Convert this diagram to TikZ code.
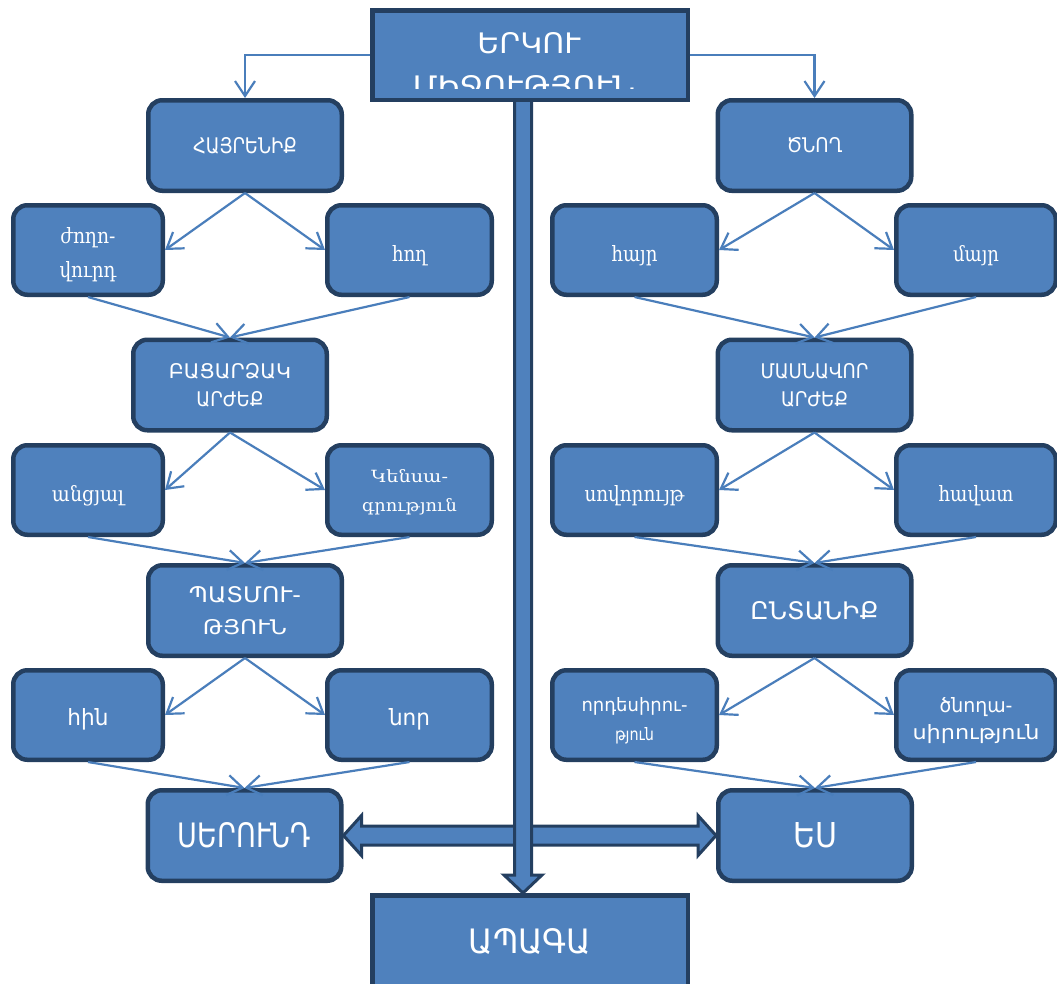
\documentclass[tikz,border=0pt]{standalone}
\usepackage{fontspec}
\usepackage{graphicx}
\usetikzlibrary{arrows.meta,calc}
\newfontfamily\capsf{DejaVu Sans}
\newfontfamily\sansf{DejaVu Sans}
\newfontfamily\serff{DejaVu Serif}
\newcommand\lowfont{\serff\iffontchar\font"0570\relax\else\sansf\fi}
\newcommand\capline[3]{\resizebox{#1pt}{#2pt}{\capsf #3}}
% width, ascender height, forced layout height, text
\newcommand\lowline[4]{\raisebox{0pt}[#3pt][0pt]{\resizebox{#1pt}{#2pt}{\lowfont #4}}}
\newcommand\sansline[4]{\raisebox{0pt}[#3pt][0pt]{\resizebox{#1pt}{#2pt}{\sansf #4}}}
\definecolor{boxfill}{RGB}{79,129,189}
\definecolor{boxline}{RGB}{36,63,96}
\definecolor{connblue}{RGB}{74,126,187}
\tikzset{
  rbox/.style={draw=boxline, line width=4.5pt, fill=boxfill, rounded corners=14pt, text=white, inner sep=0pt, align=center},
  bigbox/.style={rbox, minimum width=193.5pt, minimum height=90.5pt},
  smallL/.style={rbox, minimum width=149.5pt, minimum height=89.5pt},
  smallR/.style={rbox, minimum width=164.5pt, minimum height=89.5pt},
  edgebox/.style={rbox, minimum width=159.5pt, minimum height=89.5pt},
  sqbox/.style={draw=boxline, line width=4.5pt, fill=boxfill, text=white, inner sep=0pt, minimum width=315.5pt, minimum height=89.5pt},
  conn/.style={draw=connblue, line width=2.2pt, -{Straight Barb[length=15pt,width=20pt]}},
  fat/.style={draw=boxline, line width=3pt, fill=boxfill, line join=miter},
  bs/.style={font=\fontsize{10}{#1}\selectfont}
}
\begin{document}
\begin{tikzpicture}[x=1pt,y=-1pt]
\useasboundingbox (0,0) rectangle (1057,983);
\clip (0,0) rectangle (1057,983);
\fill[white] (0,0) rectangle (1057,983);

% top and bottom boxes
\node[sqbox] (two) at (530,55) {};
\begin{scope}
  \clip ([xshift=2pt,yshift=-2pt]two.north west) rectangle ([xshift=-2pt,yshift=14pt]two.south east);
  \node[anchor=north, inner sep=0pt, align=center, text=white, bs=43] (twoT) at (529,32)
    {\capline{103}{21}{ԵՐԿՈՒ}\\\capline{232}{21}{ՄԻՋՈՒԹՅՈՒՆ.}};
\end{scope}
\node[sqbox, minimum height=92.5pt] (future) at (530,941.5) {\capline{122}{25}{ԱՊԱԳԱ}};

% left column
\node[bigbox] (hayreniq) at (245,145.5) {\capline{104}{16}{ՀԱՅՐԵՆԻՔ}};
\node[smallL, bs=34] (zhoghovurd) at (88,250) {\lowline{55}{16}{20}{ժողո-}\\\lowline{57}{16}{10}{վուրդ}};
\node[smallR] (hogh) at (409.5,250) {\lowline{35}{16}{22}{հող}};
\node[bigbox, bs=28] (bacardzak) at (230,385) {\capline{122}{15}{ԲԱՑԱՐՁԱԿ}\\\capline{67}{15}{ԱՐԺԵՔ}};
\node[smallL] (ancyal) at (88,490) {\lowline{72}{16}{22}{անցյալ}};
\node[smallR, bs=29] (kensagr) at (409.5,490) {\lowline{77}{13}{13}{Կենսա-}\\\lowline{95}{13}{10}{գրություն}};
\node[bigbox, bs=32] (patmutyun) at (245,610.5) {\capline{112}{16}{ՊԱՏՄՈՒ-}\\\capline{84}{15}{ԹՅՈՒՆ}};
\node[smallL] (hin) at (88,715) {\sansline{41}{17}{20}{հին}};
\node[smallR] (nor) at (409.5,715) {\sansline{41}{17}{20}{նոր}};
\node[bigbox] (serund) at (244.5,835.5) {\capline{133}{25}{ՍԵՐՈՒՆԴ}};

% right column
\node[bigbox] (tsnogh) at (814.5,145.5) {\capline{56}{15}{ԾՆՈՂ}};
\node[smallR] (hayr) at (634.5,250) {\lowline{46}{16}{22}{հայր}};
\node[edgebox] (mayr) at (976,250) {\lowline{46}{16}{22}{մայր}};
\node[bigbox, bs=28] (masnavor) at (814.5,385) {\capline{108}{15}{ՄԱՍՆԱՎՈՐ}\\\capline{67}{15}{ԱՐԺԵՔ}};
\node[smallR] (sovoruyt) at (634.5,490) {\lowline{100}{16}{22}{սովորույթ}};
\node[edgebox] (havat) at (976,490) {\lowline{75}{16}{22}{հավատ}};
\node[bigbox] (entaniq) at (814.5,610.5) {\capline{128}{18}{ԸՆՏԱՆԻՔ}};
\node[smallR, bs=29] (vordesir) at (634.5,715) {\sansline{106}{14}{21}{որդեսիրու-}\\\sansline{39}{13}{10}{թյուն}};
\node[edgebox, bs=27] (tsnoghasir) at (976,715) {\sansline{73}{15}{21}{ծնողա-}\\\sansline{127}{15}{10}{սիրություն}};
\node[bigbox] (es) at (815,835.5) {\capline{44}{25}{ԵՍ}};

% fat arrows
\coordinate (hl) at (serund.east);
\coordinate (hr) at (es.west);
\draw[fat] (hl) -- ($(hl)+(18,-20)$) -- ($(hl)+(18,-9.5)$) -- ($(hr)+(-18,-9.5)$) -- ($(hr)+(-18,-20)$) -- (hr)
  -- ($(hr)+(-18,20)$) -- ($(hr)+(-18,9.5)$) -- ($(hl)+(18,9.5)$) -- ($(hl)+(18,20)$) -- cycle;
\coordinate (vs) at ([xshift=-7pt]two.south);
\coordinate (ve) at (vs |- future.north);
\draw[fat] ($(vs)+(-8.5,0)$) -- ($(ve)+(-8.5,-18)$) -- ($(ve)+(-19,-18)$) -- (ve) -- ($(ve)+(19,-18)$)
  -- ($(ve)+(8.5,-18)$) -- ($(vs)+(8.5,0)$);

% connectors
\draw[conn] (two.west) -| (hayreniq.north);
\draw[conn] (two.east) -| (tsnogh.north);

\draw[conn] (hayreniq.south) -- (zhoghovurd.east);
\draw[conn] (hayreniq.south) -- (hogh.west);
\draw[conn] (zhoghovurd.south) -- (bacardzak.north);
\draw[conn] (hogh.south) -- (bacardzak.north);
\draw[conn] (bacardzak.south) -- (ancyal.east);
\draw[conn] (bacardzak.south) -- (kensagr.west);
\draw[conn] (ancyal.south) -- (patmutyun.north);
\draw[conn] (kensagr.south) -- (patmutyun.north);
\draw[conn] (patmutyun.south) -- (hin.east);
\draw[conn] (patmutyun.south) -- (nor.west);
\draw[conn] (hin.south) -- (serund.north);
\draw[conn] (nor.south) -- (serund.north);

\draw[conn] (tsnogh.south) -- (hayr.east);
\draw[conn] (tsnogh.south) -- (mayr.west);
\draw[conn] (hayr.south) -- (masnavor.north);
\draw[conn] (mayr.south) -- (masnavor.north);
\draw[conn] (masnavor.south) -- (sovoruyt.east);
\draw[conn] (masnavor.south) -- (havat.west);
\draw[conn] (sovoruyt.south) -- (entaniq.north);
\draw[conn] (havat.south) -- (entaniq.north);
\draw[conn] (entaniq.south) -- (vordesir.east);
\draw[conn] (entaniq.south) -- (tsnoghasir.west);
\draw[conn] (vordesir.south) -- (es.north);
\draw[conn] (tsnoghasir.south) -- (es.north);
\end{tikzpicture}
\end{document}
